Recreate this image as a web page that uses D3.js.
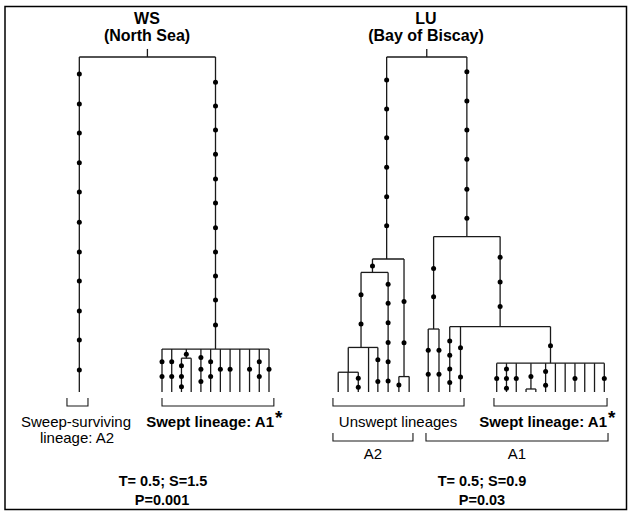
<!DOCTYPE html>
<html><head><meta charset="utf-8">
<script src="https://cdn.jsdelivr.net/npm/d3@7"></script>
<style>body{margin:0;background:#fff}svg{display:block}</style>
</head><body>
<svg id="c" width="629" height="512"></svg>
<script>
// ---------- data ----------
// depth: 0 = root, 100 = sampled tips; slot = leaf position (per tree)
const titles = [["WS","(North Sea)"],["LU","(Bay of Biscay)"]];
const stats = [["T= 0.5; S=1.5","P=0.001"],["T= 0.5; S=0.9","P=0.03"]];

const wsNodes = [
  ["root", null, 0],
  ["A2", "root", 100, -8.5],
  ["A1", "root", 87.2],
  ["w0","A1",100,0],["w1","A1",100,1],
  ["wc","A1",89.9],["w2","wc",100,2],["w3","wc",100,3],
  ["w4","A1",100,4],["w5","A1",100,5],["w6","A1",100,6],["w7","A1",100,7],
  ["w8","A1",100,8],["w9","A1",100,9],["w10","A1",100,10],["w11","A1",100,11]
];
const wsMutations = [
  ["A2",[5.1,14.0,22.7,31.6,40.3,49.3,58.2,66.9,75.8,84.5,93.4]],
  ["A1",[7.5,14.6,21.8,29.0,36.4,43.6,51.0,58.2,65.4,72.5,80.0]],
  ["wc",[88.7]],
  ["w0",[91.0,95.4]],["w1",[91.0,95.4]],["w2",[92.2,95.4,98.4]],
  ["w4",[89.7,93.2,96.9]],["w5",[91.0,95.4]],["w6",[93.2]],["w7",[93.2]],
  ["w9",[93.2]],["w10",[91.0,95.4]],["w11",[93.2]]
];

const luNodes = [
  ["root", null, 0],
  ["e","root",60.3,-11.25],
  ["c","e",64.3,-12.7],
  ["b","c",86.7,-13.87],
  ["a","b",94.1],
  ["u0","a",100,-16.2],["u1","a",100,-15.2],["u2","a",100,-14.15],
  ["u3","b",100,-13.1],["u4","b",100,-12.15],
  ["u5","c",100,-11.1],
  ["d","e",95.4],["u6","d",100,-10.0],["u7","d",100,-8.95],
  ["j","root",53.6],
  ["f","j",81.2],["m0","f",100,-7.0],["m1","f",100,-5.9],
  ["i","j",80.5],["m2","i",100,-4.8],["m3","i",100,-3.7],
  ["g","i",91.4],
  ["s0","g",100,0],["s1","g",100,1],["s2","g",100,2],
  ["h","g",99.1],["s3","h",100,3],["s4","h",100,4],
  ["s5","g",100,5],["s6","g",100,6],["s7","g",100,7],["s8","g",100,8],
  ["s9","g",100,9],["s10","g",100,10],["s11","g",100,11]
];
const luMutations = [
  ["e",[6.9,15.5,24.1,32.9,41.7,50.4]],
  ["j",[4.4,13.1,21.8,30.5,39.5,48.1]],
  ["c",[62.4]],["b",[71.0,79.7]],
  ["u2",[95.9,98.6]],["u4",[90.4,96.9]],
  ["u5",[67.8,73.5,79.3,85.2,91.0,96.7]],
  ["d",[73.0,85.3]],["u6",[97.9]],
  ["f",[63.1,71.6]],["m0",[87.5,94.7]],["m1",[87.5,94.7]],
  ["i",[59.8,67.2,74.5]],
  ["m2",[84.8,89.0,93.1,97.2]],["m3",[86.8,95.5]],
  ["g",[86.2]],["h",[95.4]],
  ["s0",[96.0]],["s1",[93.1,96.0,98.9]],["s2",[96.0]],
  ["s5",[93.9,98.0]],["s8",[96.0]],["s11",[96.0]]
];

// brackets: [slotFrom, slotTo, row]
const wsBrackets = [[-9.77,-7.61,0],[0,11.5,0]];
const luBrackets = [[-16.74,-3.34,0],[-0.28,11.28,0],[-16.74,-8.56,1],[-7.23,11.38,1]];
const rootStemDepth = -2.4;

// ---------- drawing ----------
const svg = d3.select("#c");
const FONT = "Liberation Sans, Arial, Helvetica, sans-serif";
const ink = "#1a1a1a";

svg.append("rect").attr("x",5).attr("y",6.5).attr("width",621.5).attr("height",503)
  .attr("fill","none").attr("stroke","#000").attr("stroke-width",1.5);

const yDepth = d3.scaleLinear().domain([0,100]).range([57,392]);
const wsX = d3.scaleLinear().domain([0,11]).range([162,269]);
const luX = d3.scaleLinear().domain([0,11]).range([496.7,604.3]);

function drawTree(rows, muts, x) {
  const root = d3.stratify().id(d=>d[0]).parentId(d=>d[1])(rows);
  root.eachAfter(n => {
    const slot = n.data[3];
    if (slot !== undefined) n.px = x(slot);
    else {
      const xs = n.children.map(c=>c.px);
      n.px = (d3.min(xs)+d3.max(xs))/2;
    }
    n.depthVal = n.data[2];
  });
  const g = svg.append("g").attr("stroke",ink).attr("stroke-width",1.3).attr("fill","none");
  const nodes = root.descendants();
  g.selectAll("line.v").data(nodes).join("line").attr("class","v")
    .attr("x1",d=>d.px).attr("x2",d=>d.px)
    .attr("y1",d=>yDepth(d.parent ? d.parent.depthVal : rootStemDepth))
    .attr("y2",d=>yDepth(d.depthVal));
  g.selectAll("line.h").data(nodes.filter(d=>d.children)).join("line").attr("class","h")
    .attr("y1",d=>yDepth(d.depthVal)).attr("y2",d=>yDepth(d.depthVal))
    .attr("x1",d=>d3.min(d.children,c=>c.px)).attr("x2",d=>d3.max(d.children,c=>c.px));
  const byId = new Map(nodes.map(n=>[n.id,n]));
  const pts = muts.flatMap(([id,ds]) => ds.map(dd => ({n:byId.get(id), d:dd})));
  svg.append("g").selectAll("circle").data(pts).join("circle")
    .attr("cx",p=>p.n.px).attr("cy",p=>yDepth(p.d)).attr("r",2.5).attr("fill","#000");
}

function drawBrackets(list, x) {
  const tops = [398, 433], h = 8;
  svg.append("g").selectAll("path").data(list).join("path")
    .attr("d", b => `M${x(b[0])},${tops[b[2]]}V${tops[b[2]]+h}H${x(b[1])}V${tops[b[2]]}`)
    .attr("fill","none").attr("stroke",ink).attr("stroke-width",1.1);
}

drawTree(wsNodes, wsMutations, wsX);
drawTree(luNodes, luMutations, luX);
drawBrackets(wsBrackets, wsX);
drawBrackets(luBrackets, luX);

function txt(x, y, s, opts={}) {
  return svg.append("text").attr("x",x).attr("y",y).attr("text-anchor",opts.anchor||"middle")
    .attr("font-family",FONT).attr("font-size",opts.size||15)
    .attr("font-weight",opts.bold?"bold":"normal").attr("fill","#000").text(s);
}
[[147,0],[426,1]].forEach(([cx,k])=>{
  txt(cx,24,titles[k][0],{bold:true,size:16});
  txt(cx,41,titles[k][1],{bold:true,size:16});
  txt(k?482:163,486,stats[k][0],{bold:true,size:14.5});
  txt(k?482:162,505,stats[k][1],{bold:true,size:14.5});
});
txt(76,427,"Sweep-surviving");
txt(77,443,"lineage: A2");
txt(274,427,"Swept lineage: A1",{bold:true,anchor:"end"});
txt(275,424,"*",{bold:true,anchor:"start",size:19});
txt(398,427,"Unswept lineages");
txt(607,427,"Swept lineage: A1",{bold:true,anchor:"end"});
txt(608,424,"*",{bold:true,anchor:"start",size:19});
txt(373,459,"A2");
txt(517,459,"A1");
</script>
</body></html>
